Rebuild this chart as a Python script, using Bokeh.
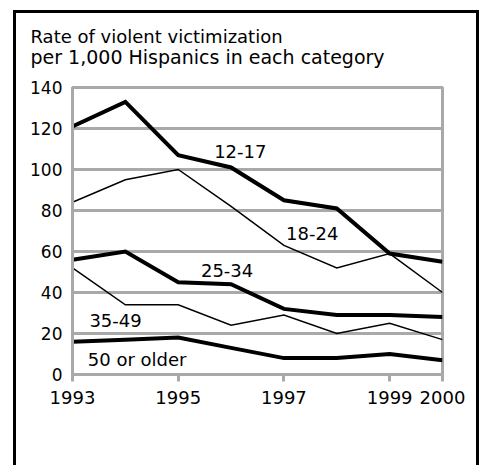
from bokeh.plotting import figure
from bokeh.models import Range1d, FixedTicker, Title, ColumnDataSource
from bokeh.core.properties import value
from bokeh.embed import file_html
from bokeh.resources import INLINE

years = [1993, 1994, 1995, 1996, 1997, 1998, 1999, 2000]
age_12_17 = [121, 133, 107, 101, 85, 81, 59, 55]
age_18_24 = [84, 95, 100, 82, 63, 52, 59, 40]
age_25_34 = [56, 60, 45, 44, 32, 29, 29, 28]
age_35_49 = [52, 34, 34, 24, 29, 20, 25, 17]
age_50_up = [16, 17, 18, 13, 8, 8, 10, 7]

x_ticks = [1993, 1995, 1997, 1999, 2000]
y_ticks = [0, 20, 40, 60, 80, 100, 120, 140]

series_labels = ["12-17", "18-24", "25-34", "35-49", "50 or older"]
label_x = [1995.68, 1997.04, 1995.43, 1993.32, 1993.29]
label_y = [109.0, 68.7, 50.6, 26.2, 7.2]

title_1 = "Rate of violent victimization"
title_2 = "per 1,000 Hispanics in each category"

FONT = "DejaVu Sans"
GRID = "#a9a9a9"

p = figure(width=466, height=455, x_range=Range1d(1993, 2000), y_range=Range1d(0, 140),
           output_backend="svg", toolbar_location=None,
           min_border_left=56, min_border_right=40, min_border_top=74, min_border_bottom=94,
           styles={"border": "3px solid black", "border-bottom": "none"},
           margin=(10, 0, 0, 13))
p.background_fill_color = "white"
p.border_fill_color = "white"
p.outline_line_color = GRID
p.outline_line_width = 3

p.xgrid.visible = False
p.ygrid.ticker = FixedTicker(ticks=y_ticks)
p.ygrid.grid_line_color = GRID
p.ygrid.grid_line_width = 3

p.xaxis.ticker = FixedTicker(ticks=x_ticks)
p.xaxis.axis_line_color = GRID
p.xaxis.axis_line_width = 3
p.xaxis.major_tick_line_color = GRID
p.xaxis.major_tick_line_width = 3
p.xaxis.major_tick_out = 7
p.xaxis.major_tick_in = 0
p.xaxis.minor_tick_line_color = None
p.xaxis.major_label_text_font = FONT
p.xaxis.major_label_text_font_size = "18px"
p.xaxis.major_label_text_color = "black"
p.xaxis.major_label_standoff = 9

p.yaxis.ticker = FixedTicker(ticks=y_ticks)
p.yaxis.axis_line_color = GRID
p.yaxis.axis_line_width = 3
p.yaxis.major_tick_line_color = None
p.yaxis.minor_tick_line_color = None
p.yaxis.major_tick_out = 0
p.yaxis.major_tick_in = 0
p.yaxis.major_label_text_font = FONT
p.yaxis.major_label_text_font_size = "17px"
p.yaxis.major_label_text_color = "black"
p.yaxis.major_label_standoff = 10

for vals, w in [(age_12_17, 4), (age_18_24, 1.5), (age_25_34, 4), (age_35_49, 1.5), (age_50_up, 4)]:
    p.line(years, vals, line_color="black", line_width=w, line_join="miter")

src = ColumnDataSource(dict(x=label_x, y=label_y, t=series_labels))
p.text(x="x", y="y", text="t", source=src, text_font=value(FONT), text_font_size="18px",
       text_color="black", text_align="left", text_baseline="alphabetic")

# the first title added sits nearest the plot area
for txt, size, gap in [(title_2, "19px", 40), (title_1, "18px", -47)]:
    p.add_layout(Title(text=txt, align="left", offset=-42, standoff=gap,
                       text_font=FONT, text_font_size=size, text_color="black",
                       text_font_style="normal"), "above")

open("out.html", "w").write(file_html(p, INLINE))
